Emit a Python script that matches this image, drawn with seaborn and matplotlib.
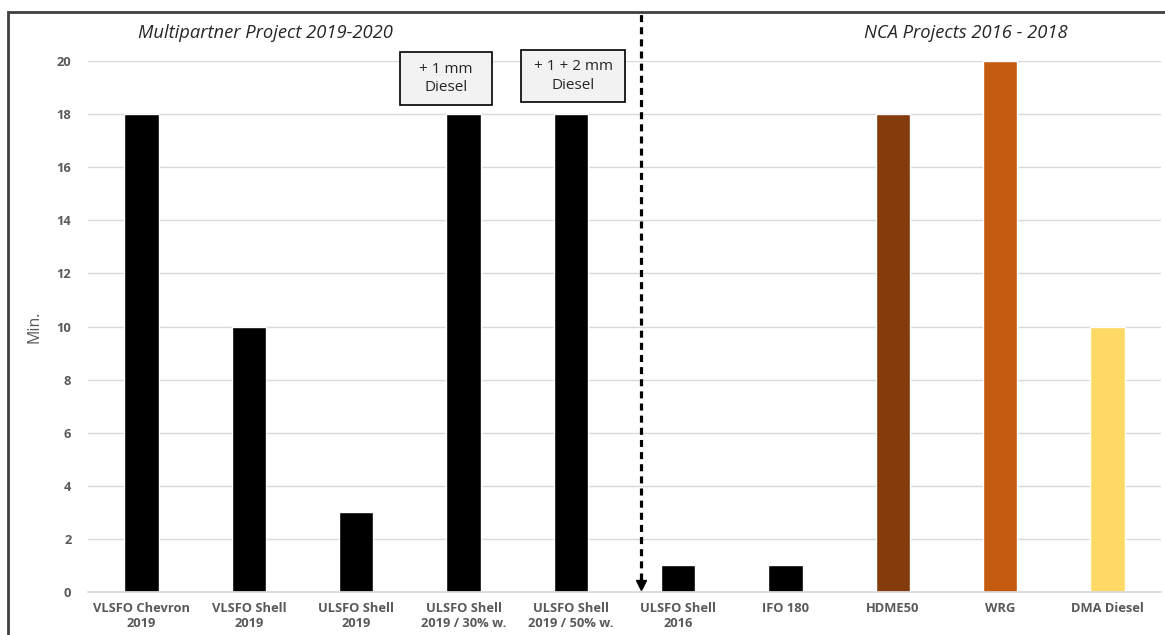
import matplotlib
matplotlib.use("Agg")
import matplotlib.pyplot as plt
from matplotlib.patches import Rectangle
import seaborn as sns
import pandas as pd

# data
categories = ["VLSFO Chevron\n2019", "VLSFO Shell\n2019", "ULSFO Shell\n2019",
              "ULSFO Shell\n2019 / 30% w.", "ULSFO Shell\n2019 / 50% w.",
              "ULSFO Shell\n2016", "IFO 180", "HDME50", "WRG", "DMA Diesel"]
minutes = [18, 10, 3, 18, 18, 1, 1, 18, 20, 10]
bar_colors = ["#000000"] * 7 + ["#843C0C", "#C55A11", "#FFD966"]
y_ticks = [0, 2, 4, 6, 8, 10, 12, 14, 16, 18, 20]

df = pd.DataFrame({"cat": categories, "min": minutes})

sns.set_theme(style="white")
plt.rcParams["font.family"] = ["Open Sans", "DejaVu Sans"]

W, H = 1165, 635
fig = plt.figure(figsize=(W / 100, H / 100), dpi=100)
ax = fig.add_axes([88 / W, 1 - 592 / H, (1161 - 88) / W, (592 - 61) / H])

sns.barplot(data=df, x="cat", y="min", hue="cat", palette=bar_colors,
            legend=False, width=0.32, saturation=1, ax=ax)

ax.set_xlim(-0.5, 9.5)
ax.set_ylim(0, 20)
ax.set_yticks(y_ticks)
ax.yaxis.grid(True, color="#D9D9D9", linewidth=1)
ax.set_axisbelow(True)
for s in ["top", "right", "left"]:
    ax.spines[s].set_visible(False)
ax.spines["bottom"].set_color("#D9D9D9")
ax.tick_params(axis="both", length=0, colors="#595959", labelsize=9.3)
for lab in ax.get_xticklabels() + ax.get_yticklabels():
    lab.set_fontweight("bold")
ax.tick_params(axis="y", pad=12)
ax.tick_params(axis="x", pad=7)
ax.set_xlabel("")
ax.set_ylabel("Min.", color="#595959", fontsize=11.5, labelpad=10)

# dashed divider ending in an arrow head
div_x = 4.655
ax.plot([div_x, div_x], [0.45, 21.85], color="black", lw=2.3,
        linestyle=(0, (2.2, 1.6)), clip_on=False, zorder=5)
ax.plot([div_x], [0.25], marker="v", markersize=7, color="black",
        clip_on=False, zorder=5)

# group titles
fig.text(265 / W, 1 - 33 / H, "Multipartner Project 2019-2020",
         style="italic", fontsize=13.2, ha="center", va="center")
fig.text(966 / W, 1 - 33 / H, "NCA Projects 2016 - 2018",
         style="italic", fontsize=13.2, ha="center", va="center")

# boxed notes
for (x0, y0, x1, y1), txt in [((400, 52, 492, 105), "+ 1 mm\nDiesel"),
                              ((521, 50, 625, 102), "+ 1 + 2 mm\nDiesel")]:
    fig.patches.append(Rectangle((x0 / W, 1 - y1 / H), (x1 - x0) / W, (y1 - y0) / H,
                                 transform=fig.transFigure, facecolor="#F2F2F2",
                                 edgecolor="black", lw=1.2, zorder=6))
    fig.text((x0 + x1) / 2 / W, 1 - (y0 + y1) / 2 / H, txt, ha="center",
             va="center", fontsize=11, linespacing=1.35, zorder=7)

# outer frame
fig.patches.append(Rectangle((8 / W, -0.01), 1.0, 1 - 12 / H + 0.01,
                             transform=fig.transFigure, fill=False,
                             edgecolor="#404040", lw=2))

fig.savefig("out.png", dpi=100)
